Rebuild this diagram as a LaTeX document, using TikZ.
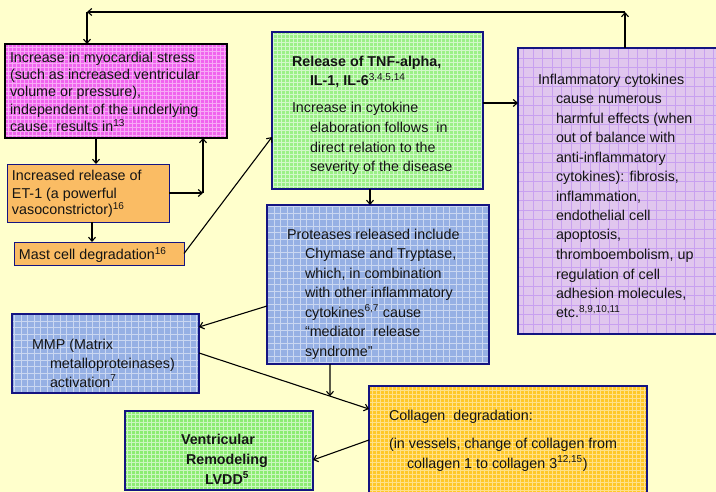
\documentclass[tikz,border=0pt]{standalone}
\usepackage{fontspec}
\setmainfont{Liberation Sans}
\usetikzlibrary{arrows.meta,calc}
\definecolor{bg}{RGB}{255,255,204}
\definecolor{navy}{RGB}{20,20,130}
\definecolor{ink}{RGB}{20,20,20}
\definecolor{pinkf}{RGB}{240,100,238}
\definecolor{orangef}{RGB}{250,188,100}
\definecolor{greenf}{RGB}{155,240,135}
\definecolor{purplef}{RGB}{224,198,238}
\definecolor{purpleg}{RGB}{200,160,240}
\definecolor{bluef}{RGB}{150,176,228}
\definecolor{goldf}{RGB}{255,200,40}
\definecolor{ventf}{RGB}{140,236,115}
\newcommand{\fsz}[1]{\fontsize{14.3}{#1}\selectfont}
\newcommand{\fr}{\rule{0pt}{13pt}}
\newcommand{\ind}{\\\hspace*{18pt}}
\begin{document}
\begin{tikzpicture}[x=1pt,y=-1pt,
  box/.style={draw=navy,line width=1.8pt,anchor=north west,inner sep=0pt,outer sep=0pt},
  boxgrid/.style 2 args={path picture={\draw[#1,line width=0.35pt] (path picture bounding box.south west) grid[step=#2] (path picture bounding box.north east);}},
  txt/.style={anchor=north west,inner sep=0pt,outer sep=0pt,align=left,text=ink},
  arr/.style={-{Straight Barb[length=4pt,width=7pt]},line width=1.1pt,draw=black}]
\useasboundingbox (0,0) rectangle (716,492);
\fill[bg] (0,0) rectangle (716,492);
\clip (0,0) rectangle (716,492);

% boxes
\node[box,draw=black,line width=1.4pt,fill=pinkf,boxgrid={pinkf!55!white}{4pt},minimum width=222pt,minimum height=94pt] (pink) at (5,44) {};
\node[box,line width=0.8pt,fill=orangef,minimum width=162pt,minimum height=58pt] (et) at (7,164) {};
\node[box,line width=0.8pt,fill=orangef,minimum width=170pt,minimum height=23pt] (mast) at (14,242) {};
\node[box,fill=greenf,boxgrid={greenf!45!white}{4pt},minimum width=211pt,minimum height=157pt] (green) at (272,32) {};
\node[box,fill=purplef,boxgrid={purpleg}{9.5pt},minimum width=220pt,minimum height=286pt] (purple) at (518,48) {};
\node[box,fill=bluef,boxgrid={bluef!50!white}{6.5pt},minimum width=222pt,minimum height=159pt] (blue) at (267,205) {};
\node[box,fill=bluef,boxgrid={bluef!50!white}{6.5pt},minimum width=187pt,minimum height=79pt] (mmp) at (12,314) {};
\node[box,fill=ventf,boxgrid={ventf!45!white}{4pt},minimum width=188pt,minimum height=79pt] (vent) at (125,411) {};
\node[box,fill=goldf,boxgrid={goldf!55!white}{4pt},minimum width=278pt,minimum height=112pt] (coll) at (369,386) {};

% texts
\node[txt,font=\fsz{17.5}] (tpink) at (10,49) {\fr Increase in myocardial stress\\(such as increased ventricular\\volume or pressure),\\independent of the underlying\\cause, results in\textsuperscript{13}};
\node[txt,font=\fsz{17}] (tet) at (12,168) {\fr Increased release of\\ET-1 (a powerful\\vasoconstrictor)\textsuperscript{16}};
\node[txt,font=\fsz{17}] (tmast) at (19,247) {\fr Mast cell degradation\textsuperscript{16}};
\node[txt,font=\fsz{19}] (tgreenA) at (292,54) {\fr\textbf{Release of TNF-alpha,}\ind\textbf{IL-1, IL-6}\textsuperscript{3,4,5,14}};
\node[txt,font=\fsz{19.6}] (tgreenB) at (292,100) {\fr Increase in cytokine\ind elaboration follows\ \ in\ind direct relation to the\ind severity of the disease};
\node[txt,font=\fsz{19.5}] (tpurple) at (538,71) {\fr Inflammatory cytokines\ind cause numerous\ind harmful effects (when\ind out of balance with\ind anti-inflammatory\ind cytokines): fibrosis,\ind inflammation,\ind endothelial cell\ind apoptosis,\ind thromboembolism, up\ind regulation of cell\ind adhesion molecules,\ind etc.\textsuperscript{8,9,10,11}};
\node[txt,font=\fsz{19.5}] (tblue) at (287,226) {\fr Proteases released include\ind Chymase and Tryptase,\ind which, in combination\ind with other inflammatory\ind cytokines\textsuperscript{6,7} cause\ind “mediator\ \ release\ind syndrome”};
\node[txt,font=\fsz{19}] (tmmp) at (32,336) {\fr MMP (Matrix\ind metalloproteinases)\ind activation\textsuperscript{7}};
\node[txt,font=\fsz{20}] (tvent) at (181,431) {\fr\textbf{Ventricular}\\\hspace*{5pt}\textbf{Remodeling}\\\hspace*{24pt}\textbf{LVDD\textsuperscript{5}}};
\node[txt,font=\fsz{20}] (tcollA) at (389,407) {\fr Collagen\ \ degradation:};
\node[txt,font=\fsz{20}] (tcollB) at (389,435) {\fr (in vessels, change of collagen from\ind collagen 1 to collagen 3\textsuperscript{12,15})};

% helper coordinates
\coordinate (c1) at (625,12);
\coordinate (c2) at (87,12);
\coordinate (p1) at (96,0);
\coordinate (c3) at (203,193);
\coordinate (p2) at (92,0);
\coordinate (c4) at (0,137);
\coordinate (c5) at (0,103);
\coordinate (c6) at (370,0);
\coordinate (c7) at (0,306);
\coordinate (c8) at (0,327);
\coordinate (c9) at (0,353);
\coordinate (c10) at (0,409);
\coordinate (c11) at (0,440);
\coordinate (c12) at (0,460);
\coordinate (p3) at (330,0);

% connectors
\draw[arr] (purple.north -| c1) -- (c1);
\draw[arr] (c1) -- (c2);
\draw[arr] (c2) -- (pink.north -| c2);
\draw[arr] (pink.south -| p1) -- (et.north -| p1);
\draw[arr] (et.east) -- (c3);
\draw[arr] (c3) -- (pink.south -| c3);
\draw[arr] (et.south -| p2) -- (mast.north -| p2);
\draw[arr] (mast.east) -- (green.west |- c4);
\draw[arr] (green.east |- c5) -- (purple.west |- c5);
\draw[arr] (green.south -| c6) -- (blue.north -| c6);
\draw[arr] (blue.west |- c7) -- (mmp.east |- c8);
\draw[arr] (mmp.east |- c9) -- coordinate[pos=0.7706] (j) (coll.west |- c10);
\draw[arr] (blue.south -| p3) -- (j);
\draw[arr] (coll.west |- c11) -- (vent.east |- c12);
\end{tikzpicture}
\end{document}
